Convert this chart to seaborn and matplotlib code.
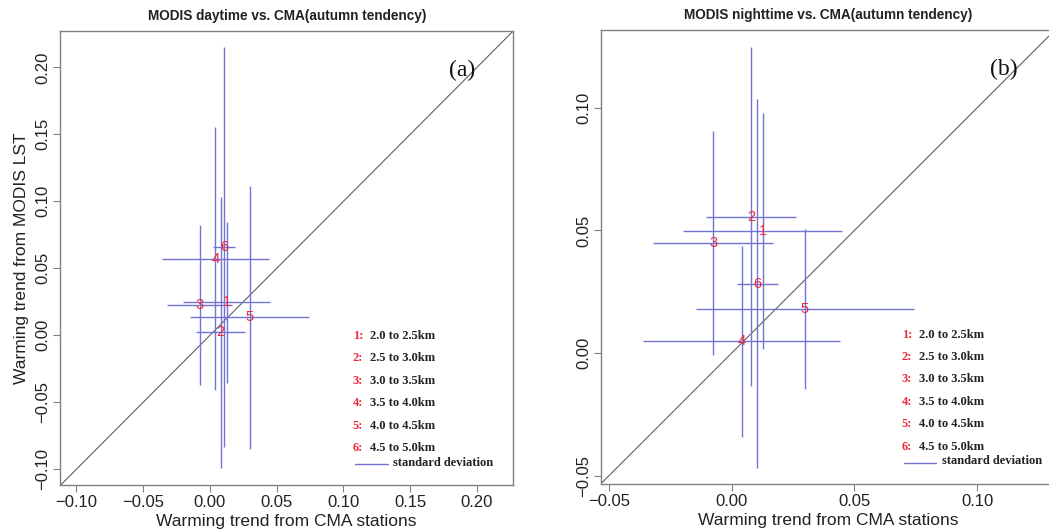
import numpy as np
import matplotlib
matplotlib.use("Agg")
import matplotlib.pyplot as plt
from matplotlib.ticker import FuncFormatter
import seaborn as sns

# Elevation bands
band_ids = ["1", "2", "3", "4", "5", "6"]
band_ranges = ["2.0 to 2.5km", "2.5 to 3.0km", "3.0 to 3.5km",
               "3.5 to 4.0km", "4.0 to 4.5km", "4.5 to 5.0km"]

# Warming trend from CMA stations (shared by both panels) and its standard deviation
cma_trend = [0.0126, 0.0080, -0.0076, 0.0040, 0.0297, 0.0105]
cma_sd = [0.0324, 0.0183, 0.0243, 0.0401, 0.0444, 0.0083]

# MODIS LST daytime trend and standard deviation
day_trend = [0.0245, 0.0021, 0.0227, 0.0571, 0.0135, 0.0658]
day_sd = [0.0602, 0.1013, 0.0600, 0.0982, 0.0982, 0.1492]

# MODIS LST nighttime trend and standard deviation
night_trend = [0.0496, 0.0556, 0.0448, 0.0048, 0.0179, 0.0283]
night_sd = [0.0481, 0.0690, 0.0456, 0.0389, 0.0327, 0.0752]

ticks_a = [-0.10, -0.05, 0.00, 0.05, 0.10, 0.15, 0.20]
ticks_b = [-0.05, 0.00, 0.05, 0.10]

sns.set_theme(style="white")
plt.rcParams["font.family"] = ["Liberation Sans", "DejaVu Sans"]

SD_COLOR = "#7474d6"
AX_GRAY = "#808080"
NUM_RED = "#ee2a3a"

fig = plt.figure(figsize=(10.49, 5.30), dpi=100)
ax_a = fig.add_axes([0.0575, 0.0842, 0.4316, 0.8570])
ax_b = fig.add_axes([0.5726, 0.0868, 0.4331, 0.8566])


def fmt(v, _pos):
    s = f"{v:.2f}"
    return s.replace("-", "\u2212")


def draw_panel(ax, y, ysd, lims, ticks, title, tag, leg_x, line_x):
    # one-to-one reference line
    sns.lineplot(x=list(lims), y=list(lims), ax=ax, color="#606060",
                 linewidth=0.8, legend=False)
    ax.errorbar(cma_trend, y, xerr=cma_sd, yerr=ysd, fmt="none",
                ecolor=SD_COLOR, elinewidth=1.0, capsize=0)
    for bid, xv, yv in zip(band_ids, cma_trend, y):
        ax.text(xv, yv, bid, color=NUM_RED, fontsize=10.5,
                ha="center", va="center")
    ax.set_xlim(lims)
    ax.set_ylim(lims)
    ax.set_xticks(ticks)
    ax.set_yticks(ticks)
    ax.xaxis.set_major_formatter(FuncFormatter(fmt))
    ax.yaxis.set_major_formatter(FuncFormatter(fmt))
    ax.tick_params(axis="both", direction="out", length=5, width=0.8,
                   color=AX_GRAY, labelsize=12, labelcolor="#222222",
                   bottom=True, left=True, pad=2)
    for lab in ax.get_yticklabels():
        lab.set_rotation(90)
        lab.set_va("center")
    for sp in ax.spines.values():
        sp.set_color(AX_GRAY)
        sp.set_linewidth(1.0)
    ax.set_xlabel("Warming trend from CMA stations", fontsize=12.5,
                  color="#222222", labelpad=3)
    ax.set_title(title, fontsize=9.8, fontweight="bold", color="#222222",
                 pad=8)
    ax.text(0.888, 0.914, tag, transform=ax.transAxes, fontsize=17,
            family="Liberation Serif", ha="center", va="center",
            color="#111111")
    # band legend
    y0 = 0.329
    dy = 0.0493
    for i, (bid, rng) in enumerate(zip(band_ids, band_ranges)):
        yy = y0 - i * dy
        ax.text(leg_x, yy, f"{bid}:", transform=ax.transAxes, color=NUM_RED,
                fontsize=9, fontweight="bold", family="Liberation Serif",
                va="center", ha="left")
        ax.text(leg_x + 0.038, yy, rng, transform=ax.transAxes,
                color="#222222", fontsize=9, fontweight="bold",
                family="Liberation Serif", va="center", ha="left")
    yy = y0 - 6 * dy + 0.013
    ax.plot([line_x, line_x + 0.072], [yy, yy], transform=ax.transAxes,
            color=SD_COLOR, linewidth=1.0)
    ax.text(line_x + 0.084, yy + 0.004, "standard deviation",
            transform=ax.transAxes, color="#222222", fontsize=9,
            fontweight="bold", family="Liberation Serif", va="center",
            ha="left")


draw_panel(ax_a, day_trend, day_sd, (-0.112, 0.227), ticks_a,
           "MODIS daytime vs. CMA(autumn tendency)", "(a)", 0.646, 0.651)
draw_panel(ax_b, night_trend, night_sd, (-0.0534, 0.1317), ticks_b,
           "MODIS nighttime vs. CMA(autumn tendency)", "(b)", 0.663, 0.667)

ax_a.set_ylabel("Warming trend from MODIS LST", fontsize=12.5,
                color="#222222", labelpad=5)

fig.savefig("out.png", dpi=100, facecolor="white")
